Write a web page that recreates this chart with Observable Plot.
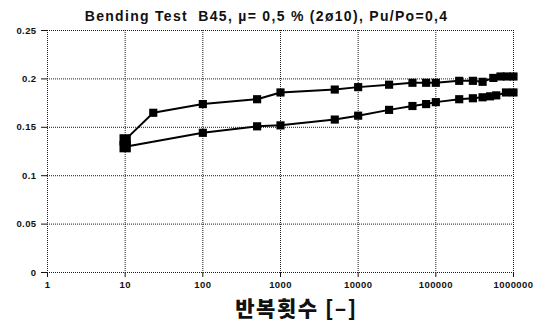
<!DOCTYPE html>
<html>
<head>
<meta charset="utf-8">
<script src="https://cdn.jsdelivr.net/npm/d3@7"></script>
<script src="https://cdn.jsdelivr.net/npm/@observablehq/plot@0.6"></script>
<style>
  html, body { margin: 0; padding: 0; background: #fff; }
  #chart { width: 544px; height: 323px; }
</style>
</head>
<body>
<div id="chart"></div>
<script>
const titleText = "Bending Test  B45, \u00b5= 0,5 % (2\u00f810), Pu/Po=0,4";
const xLabel = "반복횟수 [–]";
const xTicks = [1, 10, 100, 1000, 10000, 100000, 1000000];
const yTicks = [0, 0.05, 0.1, 0.15, 0.2, 0.25];

const upperX = [10, 23, 100, 500, 1000, 5000, 10000, 25000, 50000, 75000, 100000, 200000, 300000, 400000, 550000, 680000, 820000, 1000000];
const upperY = [0.137, 0.165, 0.174, 0.179, 0.186, 0.189, 0.1915, 0.194, 0.196, 0.196, 0.196, 0.198, 0.198, 0.197, 0.201, 0.2025, 0.2025, 0.2025];
const lowerX = [10, 100, 500, 1000, 5000, 10000, 25000, 50000, 75000, 100000, 200000, 300000, 400000, 500000, 600000, 800000, 1000000];
const lowerY = [0.130, 0.1443, 0.151, 0.152, 0.158, 0.162, 0.168, 0.172, 0.174, 0.176, 0.179, 0.180, 0.181, 0.182, 0.183, 0.186, 0.186];

const upper = upperX.map((x, i) => ({x, y: upperY[i]}));
const lower = lowerX.map((x, i) => ({x, y: lowerY[i]}));
const firstPts = [upper[0], lower[0]];
const restPts = upper.slice(1).concat(lower.slice(1));

const gridStyle = {stroke: "#1a1a1a", strokeWidth: 1, strokeDasharray: "1,1", strokeOpacity: 1};

const chart = Plot.plot({
  width: 544,
  height: 323,
  marginLeft: 47,
  marginRight: 31,
  marginTop: 30,
  marginBottom: 51,
  style: {fontFamily: "'Liberation Sans', Arial, sans-serif", fontSize: "9.5px", fontWeight: "bold", letterSpacing: "0.4px", color: "#111", background: "#fff"},
  x: {type: "log", domain: [1, 1000000], ticks: xTicks, tickFormat: d => String(d), tickSize: 5, tickPadding: 4, label: null},
  y: {domain: [0, 0.25], ticks: yTicks, tickFormat: d => String(d), tickSize: 6, tickPadding: 5, label: null},
  marks: [
    Plot.ruleX(xTicks, {...gridStyle}),
    Plot.ruleY(yTicks, {...gridStyle}),
    Plot.line(upper, {x: "x", y: "y", stroke: "#000", strokeWidth: 2}),
    Plot.line(lower, {x: "x", y: "y", stroke: "#000", strokeWidth: 2}),
    Plot.dot(restPts, {x: "x", y: "y", symbol: "square", r: 4.6, fill: "#000", stroke: "none"}),
    Plot.dot(firstPts, {x: "x", y: "y", symbol: "square", r: 6.4, fill: "#000", stroke: "none"}),
    Plot.text([titleText], {frameAnchor: "top", dx: -14, dy: -14, lineAnchor: "middle", fontSize: 14, fontWeight: "bold", fill: "#111", fontFamily: "'Liberation Sans', Arial, sans-serif"}),
    Plot.text([xLabel], {frameAnchor: "bottom", dx: 16, dy: 37, lineAnchor: "middle", fontSize: 21, fontWeight: 900, fill: "#111", fontFamily: "'Noto Sans CJK KR', sans-serif"})
  ]
});
chart.querySelectorAll("text").forEach(t => {
  if (t.textContent === titleText) t.setAttribute("letter-spacing", "1.3px");
  if (t.textContent === xLabel) t.setAttribute("letter-spacing", "1.5px");
});
document.getElementById("chart").appendChild(chart);
</script>
</body>
</html>
